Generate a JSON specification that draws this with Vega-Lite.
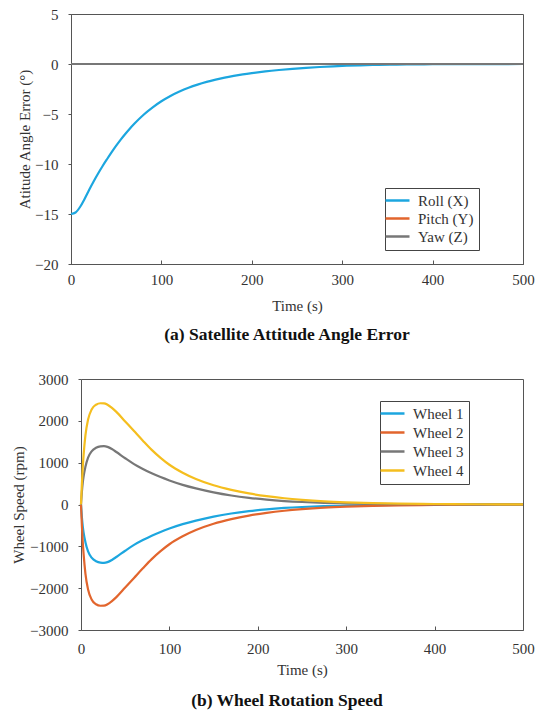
{
  "$schema": "https://vega.github.io/schema/vega-lite/v6.json",
  "background": "white",
  "padding": {"left": 11, "top": 6, "right": 5, "bottom": 2},
  "spacing": 28,
  "config": {
    "font": "Liberation Serif",
    "view": {"stroke": "#555555", "strokeWidth": 1},
    "axis": {
      "grid": false,
      "labelFlush": false,
      "domainColor": "#555555",
      "tickColor": "#555555",
      "labelColor": "#333333",
      "titleColor": "#333333",
      "labelFont": "Liberation Serif",
      "titleFont": "Liberation Serif",
      "labelFontSize": 15,
      "titleFontSize": 15,
      "titleFontWeight": "normal"
    },
    "legend": {
      "labelFont": "Liberation Serif",
      "labelFontSize": 15,
      "labelColor": "#333333",
      "strokeColor": "#444444",
      "fillColor": "white",
      "symbolType": "M-2,0H2",
      "symbolStrokeWidth": 2.5,
      "symbolSize": 144,
      "labelOffset": 13,
      "rowPadding": 3,
      "padding": 5
    },
    "title": {"font": "Liberation Serif", "fontSize": 17.5, "fontWeight": "bold", "color": "#111111"}
  },
  "datasets": {
    "attitude": [
      {"t": 0, "series": "Roll (X)", "v": -15},
      {"t": 5, "series": "Roll (X)", "v": -14.85},
      {"t": 10, "series": "Roll (X)", "v": -14.3},
      {"t": 15, "series": "Roll (X)", "v": -13.5},
      {"t": 20, "series": "Roll (X)", "v": -12.6},
      {"t": 25, "series": "Roll (X)", "v": -11.75},
      {"t": 30, "series": "Roll (X)", "v": -10.95},
      {"t": 35, "series": "Roll (X)", "v": -10.2},
      {"t": 40, "series": "Roll (X)", "v": -9.5},
      {"t": 45, "series": "Roll (X)", "v": -8.82},
      {"t": 50, "series": "Roll (X)", "v": -8.17},
      {"t": 55, "series": "Roll (X)", "v": -7.56},
      {"t": 60, "series": "Roll (X)", "v": -7.0},
      {"t": 65, "series": "Roll (X)", "v": -6.47},
      {"t": 70, "series": "Roll (X)", "v": -5.98},
      {"t": 80, "series": "Roll (X)", "v": -5.1},
      {"t": 90, "series": "Roll (X)", "v": -4.36},
      {"t": 100, "series": "Roll (X)", "v": -3.73},
      {"t": 110, "series": "Roll (X)", "v": -3.2},
      {"t": 120, "series": "Roll (X)", "v": -2.76},
      {"t": 130, "series": "Roll (X)", "v": -2.38},
      {"t": 140, "series": "Roll (X)", "v": -2.06},
      {"t": 150, "series": "Roll (X)", "v": -1.79},
      {"t": 160, "series": "Roll (X)", "v": -1.56},
      {"t": 170, "series": "Roll (X)", "v": -1.36},
      {"t": 180, "series": "Roll (X)", "v": -1.19},
      {"t": 190, "series": "Roll (X)", "v": -1.04},
      {"t": 200, "series": "Roll (X)", "v": -0.91},
      {"t": 215, "series": "Roll (X)", "v": -0.74},
      {"t": 230, "series": "Roll (X)", "v": -0.6},
      {"t": 245, "series": "Roll (X)", "v": -0.48},
      {"t": 260, "series": "Roll (X)", "v": -0.38},
      {"t": 275, "series": "Roll (X)", "v": -0.3},
      {"t": 290, "series": "Roll (X)", "v": -0.23},
      {"t": 305, "series": "Roll (X)", "v": -0.17},
      {"t": 320, "series": "Roll (X)", "v": -0.13},
      {"t": 340, "series": "Roll (X)", "v": -0.09},
      {"t": 360, "series": "Roll (X)", "v": -0.06},
      {"t": 380, "series": "Roll (X)", "v": -0.04},
      {"t": 400, "series": "Roll (X)", "v": -0.025},
      {"t": 450, "series": "Roll (X)", "v": -0.01},
      {"t": 500, "series": "Roll (X)", "v": 0},
      {"t": 0, "series": "Pitch (Y)", "v": 0},
      {"t": 250, "series": "Pitch (Y)", "v": 0},
      {"t": 500, "series": "Pitch (Y)", "v": 0},
      {"t": 0, "series": "Yaw (Z)", "v": 0},
      {"t": 250, "series": "Yaw (Z)", "v": 0},
      {"t": 500, "series": "Yaw (Z)", "v": 0}
    ],
    "wheels": [
      {"t": 0, "wheel": "Wheel 1", "rpm": 0},
      {"t": 1, "wheel": "Wheel 1", "rpm": -300},
      {"t": 2, "wheel": "Wheel 1", "rpm": -520},
      {"t": 3, "wheel": "Wheel 1", "rpm": -680},
      {"t": 5, "wheel": "Wheel 1", "rpm": -900},
      {"t": 8, "wheel": "Wheel 1", "rpm": -1120},
      {"t": 12, "wheel": "Wheel 1", "rpm": -1270},
      {"t": 17, "wheel": "Wheel 1", "rpm": -1355},
      {"t": 22, "wheel": "Wheel 1", "rpm": -1390},
      {"t": 26, "wheel": "Wheel 1", "rpm": -1395},
      {"t": 30, "wheel": "Wheel 1", "rpm": -1378},
      {"t": 35, "wheel": "Wheel 1", "rpm": -1325},
      {"t": 40, "wheel": "Wheel 1", "rpm": -1255},
      {"t": 50, "wheel": "Wheel 1", "rpm": -1105},
      {"t": 60, "wheel": "Wheel 1", "rpm": -965},
      {"t": 70, "wheel": "Wheel 1", "rpm": -850},
      {"t": 80, "wheel": "Wheel 1", "rpm": -745},
      {"t": 90, "wheel": "Wheel 1", "rpm": -655},
      {"t": 100, "wheel": "Wheel 1", "rpm": -575},
      {"t": 115, "wheel": "Wheel 1", "rpm": -470},
      {"t": 130, "wheel": "Wheel 1", "rpm": -385},
      {"t": 150, "wheel": "Wheel 1", "rpm": -290},
      {"t": 170, "wheel": "Wheel 1", "rpm": -215},
      {"t": 190, "wheel": "Wheel 1", "rpm": -158},
      {"t": 210, "wheel": "Wheel 1", "rpm": -115},
      {"t": 230, "wheel": "Wheel 1", "rpm": -83},
      {"t": 250, "wheel": "Wheel 1", "rpm": -60},
      {"t": 275, "wheel": "Wheel 1", "rpm": -40},
      {"t": 300, "wheel": "Wheel 1", "rpm": -27},
      {"t": 330, "wheel": "Wheel 1", "rpm": -16},
      {"t": 360, "wheel": "Wheel 1", "rpm": -10},
      {"t": 400, "wheel": "Wheel 1", "rpm": -5},
      {"t": 450, "wheel": "Wheel 1", "rpm": -2},
      {"t": 500, "wheel": "Wheel 1", "rpm": -1},
      {"t": 0, "wheel": "Wheel 2", "rpm": 0},
      {"t": 1, "wheel": "Wheel 2", "rpm": -500},
      {"t": 2, "wheel": "Wheel 2", "rpm": -900},
      {"t": 3, "wheel": "Wheel 2", "rpm": -1200},
      {"t": 5, "wheel": "Wheel 2", "rpm": -1650},
      {"t": 8, "wheel": "Wheel 2", "rpm": -2030},
      {"t": 12, "wheel": "Wheel 2", "rpm": -2270},
      {"t": 17, "wheel": "Wheel 2", "rpm": -2385},
      {"t": 22, "wheel": "Wheel 2", "rpm": -2420},
      {"t": 26, "wheel": "Wheel 2", "rpm": -2418},
      {"t": 30, "wheel": "Wheel 2", "rpm": -2385},
      {"t": 35, "wheel": "Wheel 2", "rpm": -2310},
      {"t": 40, "wheel": "Wheel 2", "rpm": -2215},
      {"t": 50, "wheel": "Wheel 2", "rpm": -1985},
      {"t": 60, "wheel": "Wheel 2", "rpm": -1755},
      {"t": 70, "wheel": "Wheel 2", "rpm": -1525},
      {"t": 80, "wheel": "Wheel 2", "rpm": -1305},
      {"t": 90, "wheel": "Wheel 2", "rpm": -1115},
      {"t": 100, "wheel": "Wheel 2", "rpm": -950},
      {"t": 115, "wheel": "Wheel 2", "rpm": -760},
      {"t": 130, "wheel": "Wheel 2", "rpm": -610},
      {"t": 150, "wheel": "Wheel 2", "rpm": -460},
      {"t": 170, "wheel": "Wheel 2", "rpm": -350},
      {"t": 190, "wheel": "Wheel 2", "rpm": -265},
      {"t": 210, "wheel": "Wheel 2", "rpm": -200},
      {"t": 230, "wheel": "Wheel 2", "rpm": -150},
      {"t": 250, "wheel": "Wheel 2", "rpm": -112},
      {"t": 275, "wheel": "Wheel 2", "rpm": -76},
      {"t": 300, "wheel": "Wheel 2", "rpm": -52},
      {"t": 330, "wheel": "Wheel 2", "rpm": -33},
      {"t": 360, "wheel": "Wheel 2", "rpm": -21},
      {"t": 400, "wheel": "Wheel 2", "rpm": -12},
      {"t": 450, "wheel": "Wheel 2", "rpm": -6},
      {"t": 500, "wheel": "Wheel 2", "rpm": -3},
      {"t": 0, "wheel": "Wheel 3", "rpm": 0},
      {"t": 1, "wheel": "Wheel 3", "rpm": 300},
      {"t": 2, "wheel": "Wheel 3", "rpm": 520},
      {"t": 3, "wheel": "Wheel 3", "rpm": 680},
      {"t": 5, "wheel": "Wheel 3", "rpm": 900},
      {"t": 8, "wheel": "Wheel 3", "rpm": 1120},
      {"t": 12, "wheel": "Wheel 3", "rpm": 1270},
      {"t": 17, "wheel": "Wheel 3", "rpm": 1355},
      {"t": 22, "wheel": "Wheel 3", "rpm": 1390},
      {"t": 26, "wheel": "Wheel 3", "rpm": 1395},
      {"t": 30, "wheel": "Wheel 3", "rpm": 1378},
      {"t": 35, "wheel": "Wheel 3", "rpm": 1325},
      {"t": 40, "wheel": "Wheel 3", "rpm": 1255},
      {"t": 50, "wheel": "Wheel 3", "rpm": 1105},
      {"t": 60, "wheel": "Wheel 3", "rpm": 965},
      {"t": 70, "wheel": "Wheel 3", "rpm": 850},
      {"t": 80, "wheel": "Wheel 3", "rpm": 745},
      {"t": 90, "wheel": "Wheel 3", "rpm": 655},
      {"t": 100, "wheel": "Wheel 3", "rpm": 575},
      {"t": 115, "wheel": "Wheel 3", "rpm": 470},
      {"t": 130, "wheel": "Wheel 3", "rpm": 385},
      {"t": 150, "wheel": "Wheel 3", "rpm": 290},
      {"t": 170, "wheel": "Wheel 3", "rpm": 215},
      {"t": 190, "wheel": "Wheel 3", "rpm": 158},
      {"t": 210, "wheel": "Wheel 3", "rpm": 115},
      {"t": 230, "wheel": "Wheel 3", "rpm": 83},
      {"t": 250, "wheel": "Wheel 3", "rpm": 60},
      {"t": 275, "wheel": "Wheel 3", "rpm": 40},
      {"t": 300, "wheel": "Wheel 3", "rpm": 27},
      {"t": 330, "wheel": "Wheel 3", "rpm": 16},
      {"t": 360, "wheel": "Wheel 3", "rpm": 10},
      {"t": 400, "wheel": "Wheel 3", "rpm": 5},
      {"t": 450, "wheel": "Wheel 3", "rpm": 2},
      {"t": 500, "wheel": "Wheel 3", "rpm": 1},
      {"t": 0, "wheel": "Wheel 4", "rpm": 0},
      {"t": 1, "wheel": "Wheel 4", "rpm": 500},
      {"t": 2, "wheel": "Wheel 4", "rpm": 900},
      {"t": 3, "wheel": "Wheel 4", "rpm": 1200},
      {"t": 5, "wheel": "Wheel 4", "rpm": 1650},
      {"t": 8, "wheel": "Wheel 4", "rpm": 2030},
      {"t": 12, "wheel": "Wheel 4", "rpm": 2270},
      {"t": 17, "wheel": "Wheel 4", "rpm": 2385},
      {"t": 22, "wheel": "Wheel 4", "rpm": 2420},
      {"t": 26, "wheel": "Wheel 4", "rpm": 2418},
      {"t": 30, "wheel": "Wheel 4", "rpm": 2385},
      {"t": 35, "wheel": "Wheel 4", "rpm": 2310},
      {"t": 40, "wheel": "Wheel 4", "rpm": 2215},
      {"t": 50, "wheel": "Wheel 4", "rpm": 1985},
      {"t": 60, "wheel": "Wheel 4", "rpm": 1755},
      {"t": 70, "wheel": "Wheel 4", "rpm": 1525},
      {"t": 80, "wheel": "Wheel 4", "rpm": 1305},
      {"t": 90, "wheel": "Wheel 4", "rpm": 1115},
      {"t": 100, "wheel": "Wheel 4", "rpm": 950},
      {"t": 115, "wheel": "Wheel 4", "rpm": 760},
      {"t": 130, "wheel": "Wheel 4", "rpm": 610},
      {"t": 150, "wheel": "Wheel 4", "rpm": 460},
      {"t": 170, "wheel": "Wheel 4", "rpm": 350},
      {"t": 190, "wheel": "Wheel 4", "rpm": 265},
      {"t": 210, "wheel": "Wheel 4", "rpm": 200},
      {"t": 230, "wheel": "Wheel 4", "rpm": 150},
      {"t": 250, "wheel": "Wheel 4", "rpm": 112},
      {"t": 275, "wheel": "Wheel 4", "rpm": 76},
      {"t": 300, "wheel": "Wheel 4", "rpm": 52},
      {"t": 330, "wheel": "Wheel 4", "rpm": 33},
      {"t": 360, "wheel": "Wheel 4", "rpm": 21},
      {"t": 400, "wheel": "Wheel 4", "rpm": 12},
      {"t": 450, "wheel": "Wheel 4", "rpm": 6},
      {"t": 500, "wheel": "Wheel 4", "rpm": 3}
    ]
  },
  "vconcat": [
    {
      "width": 452,
      "height": 250,
      "data": {"name": "attitude"},
      "title": {"text": "(a) Satellite Attitude Angle Error", "orient": "bottom", "anchor": "middle", "dx": -10, "offset": 13},
      "mark": {"type": "line", "strokeWidth": 2.2, "interpolate": "monotone"},
      "encoding": {
        "x": {
          "field": "t", "type": "quantitative", "title": "Time (s)",
          "scale": {"domain": [0, 500], "nice": false},
          "axis": {"values": [0, 100, 200, 300, 400, 500], "tickSize": -4, "labelPadding": 12, "titlePadding": 11}
        },
        "y": {
          "field": "v", "type": "quantitative", "title": "Atitude Angle Error (°)",
          "scale": {"domain": [-20, 5], "nice": false},
          "axis": {"values": [-20, -15, -10, -5, 0, 5], "tickSize": 3, "labelPadding": 10, "titlePadding": 2}
        },
        "color": {
          "field": "series", "type": "nominal", "sort": null,
          "scale": {"domain": ["Roll (X)", "Pitch (Y)", "Yaw (Z)"], "range": ["#1CA6DF", "#E2652D", "#777777"]},
          "legend": {"title": null, "orient": "none", "legendX": 314, "legendY": 174, "rowPadding": 2}
        }
      }
    },
    {
      "width": 452,
      "height": 251,
      "view": {"stroke": null},
      "data": {"name": "wheels"},
      "title": {"text": "(b) Wheel Rotation Speed", "orient": "bottom", "anchor": "middle", "dx": -10, "offset": 15},
      "layer": [
        {
          "mark": {"type": "line", "strokeWidth": 2.2, "interpolate": "monotone"},
          "encoding": {
            "x": {
              "field": "t", "type": "quantitative", "title": "Time (s)",
              "scale": {"domain": [0, 500], "range": [10, 452], "nice": false},
              "axis": {"values": [0, 100, 200, 300, 400, 500], "tickSize": -4, "labelPadding": 15, "titlePadding": 6}
            },
            "y": {
              "field": "rpm", "type": "quantitative", "title": "Wheel Speed (rpm)",
              "scale": {"domain": [-3000, 3000], "nice": false},
              "axis": {"values": [-3000, -2000, -1000, 0, 1000, 2000, 3000], "format": "d", "offset": -10, "tickSize": 3, "labelPadding": 10, "titlePadding": 3}
            },
            "color": {
              "field": "wheel", "type": "nominal", "sort": null,
              "scale": {"domain": ["Wheel 1", "Wheel 2", "Wheel 3", "Wheel 4"], "range": ["#1CA6DF", "#E2652D", "#777777", "#F5BE1E"]},
              "legend": {"title": null, "orient": "none", "legendX": 309, "legendY": 22}
            }
          }
        },
        {
          "mark": {"type": "line", "opacity": 0},
          "encoding": {
            "x": {
              "field": "t", "type": "quantitative",
              "axis": {"orient": "top", "title": null, "labels": false, "ticks": false}
            },
            "y": {
              "field": "rpm", "type": "quantitative",
              "axis": {"orient": "right", "title": null, "labels": false, "ticks": false}
            }
          }
        }
      ],
      "resolve": {"axis": {"x": "independent", "y": "independent"}}
    }
  ],
  "resolve": {"scale": {"color": "independent"}}
}
